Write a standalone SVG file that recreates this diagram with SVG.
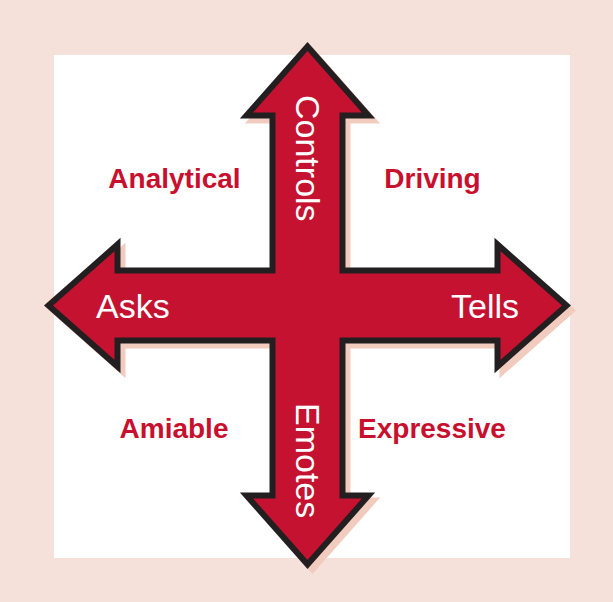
<svg xmlns="http://www.w3.org/2000/svg" width="613" height="602" viewBox="0 0 613 602">
  <style>
    .quad { font-family: "Liberation Sans", Arial, sans-serif; font-weight: bold; font-size: 28px; fill: #c8102e; text-anchor: middle; }
    .axis { font-family: "Liberation Sans", Arial, sans-serif; font-size: 34px; fill: #ffffff; }
  </style>
  <defs>
    <path id="cross" d="M307.5,46.5 L368.5,115.5 L342.5,115.5 L342.5,270.5 L497.5,270.5 L497.5,244.5 L566.5,305.5 L497.5,366.5 L497.5,340.5 L342.5,340.5 L342.5,495.5 L368.5,495.5 L307.5,564.5 L246.5,495.5 L272.5,495.5 L272.5,340.5 L117.5,340.5 L117.5,366.5 L48.5,305.5 L117.5,244.5 L117.5,270.5 L272.5,270.5 L272.5,115.5 L246.5,115.5 Z"/>
  </defs>
  <rect x="0" y="0" width="613" height="602" fill="#f6e1da"/>
  <rect x="54" y="55" width="516" height="503" fill="#ffffff"/>
  <g id="connectors">
    <use href="#cross" transform="translate(5,5)" fill="#f2cbbf" stroke="#f2cbbf" stroke-width="6" stroke-linejoin="miter" stroke-miterlimit="10"/>
    <use href="#cross" fill="#c41230" stroke="#231f20" stroke-width="6" stroke-linejoin="miter" stroke-miterlimit="10"/>
  </g>
  <g id="node-controls">
    <text class="axis" transform="translate(296,95) rotate(90)">Controls</text>
  </g>
  <g id="node-emotes">
    <text class="axis" transform="translate(296,403) rotate(90)">Emotes</text>
  </g>
  <g id="node-asks">
    <text class="axis" x="96" y="318">Asks</text>
  </g>
  <g id="node-tells">
    <text class="axis" x="519" y="318" text-anchor="end">Tells</text>
  </g>
  <g id="node-analytical">
    <text class="quad" x="174.5" y="187.5">Analytical</text>
  </g>
  <g id="node-driving">
    <text class="quad" x="432.5" y="188">Driving</text>
  </g>
  <g id="node-amiable">
    <text class="quad" x="174" y="438">Amiable</text>
  </g>
  <g id="node-expressive">
    <text class="quad" x="432" y="438">Expressive</text>
  </g>
</svg>
